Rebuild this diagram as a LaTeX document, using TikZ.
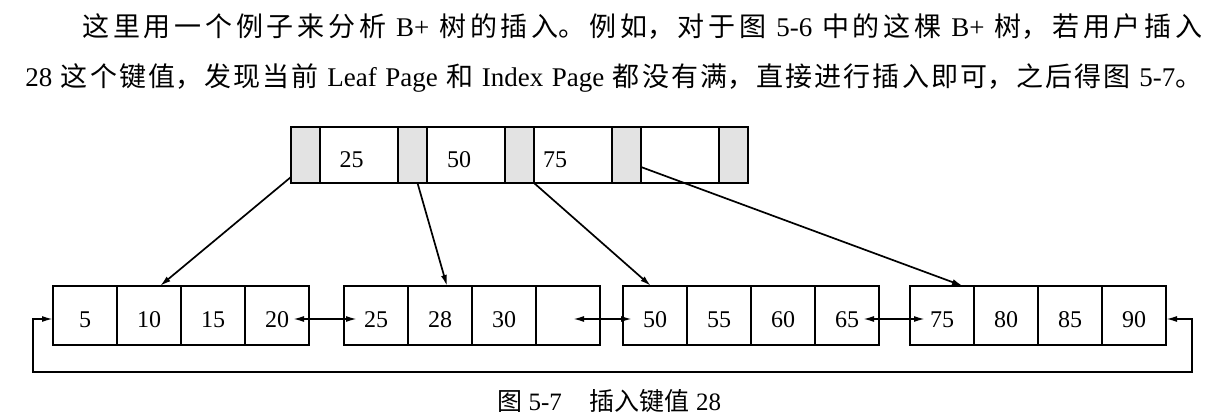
\documentclass[tikz,border=0pt]{standalone}
\usepackage{fontspec}
\setmainfont{Liberation Serif}
\newfontfamily\cjk{Noto Sans CJK SC}
\usetikzlibrary{positioning, arrows.meta}
\XeTeXlinebreaklocale "zh"
\XeTeXlinebreakskip=0pt plus 2pt minus 0.2pt
\tikzset{
  gcell/.style={draw, line width=0.9pt, fill=gray!22, minimum width=14.5pt, minimum height=28pt, inner sep=0pt, outer sep=0pt},
  kcell/.style={draw, line width=0.9pt, fill=white, minimum width=39pt, minimum height=28pt, inner sep=0pt, outer sep=0pt},
  leafcell/.style={draw, line width=0.9pt, minimum width=32pt, minimum height=29.5pt, inner sep=0pt, outer sep=0pt, text height=12.5pt, text depth=0pt, font=\fontsize{12}{14}\selectfont},
  val/.style={inner sep=0pt, font=\fontsize{12}{14}\selectfont},
  para/.style={inner sep=0pt, align=justify, font=\fontsize{13.5}{20}\selectfont},
  ptr/.style={line width=0.85pt, -{Latex[length=5.5pt,width=3pt]}},
  dptr/.style={line width=0.85pt, {Latex[length=5.5pt,width=3pt]}-{Latex[length=5.5pt,width=3pt]}}
}
\begin{document}
\begin{tikzpicture}[x=0.5pt, y=-0.5pt]
\useasboundingbox (0,0) rectangle (1223,417);
\node [para, text width=560pt, anchor=base west] (line1) at (82,37) {\parfillskip=0pt {\cjk 这里用一个例子来分析} B+ {\cjk 树的插入。例如，对于图} 5-6 {\cjk 中的这棵} B+ {\cjk 树，若用户插入}\par};
\node [para, text width=588.5pt, anchor=base west] (line2) at (25,87) {\parfillskip=0pt 28 {\cjk 这个键值，发现当前} Leaf Page {\cjk 和} Index Page {\cjk 都没有满，直接进行插入即可，之后得图} 5-7{\cjk 。}\par};
\node [gcell, anchor=west] (g1) at (291,155) {};
\node [kcell, right=0pt of g1] (k1) {};
\node [gcell, right=0pt of k1] (g2) {};
\node [kcell, right=0pt of g2] (k2) {};
\node [gcell, right=0pt of k2] (g3) {};
\node [kcell, right=0pt of g3] (k3) {};
\node [gcell, right=0pt of k3] (g4) {};
\node [kcell, right=0pt of g4] (k4) {};
\node [gcell, right=0pt of k4] (g5) {};
\node [val, anchor=base] (v25) at (351.5,168) {25};
\node [val, anchor=base] (v50) at (459,168) {50};
\node [val, anchor=base] (v75) at (555,168) {75};
\foreach \vals/\x [count=\l] in {{5,10,15,20}/53, {25,28,30,{}}/344, {50,55,60,65}/623, {75,80,85,90}/910}
  \foreach \v [count=\c] in \vals
    \node [leafcell] (l\l-\c) at (\x+\c*64-32, 315.5) {\v};
\draw [ptr] ([yshift=3pt]g1.south west) -- ([xshift=5.5pt]l1-2.north);
\draw [ptr] ([xshift=2.5pt]g2.south) -- ([xshift=3.5pt]l2-2.north);
\draw [ptr] (g3.south east) -- ([xshift=-2pt]l3-1.north);
\draw [ptr] ([yshift=-6pt]g4.east) -- ([xshift=10.5pt]l4-1.north);
\draw [dptr] ([xshift=8pt,yshift=-1.75pt]l1-4.center) -- ([xshift=-9.5pt,yshift=-1.75pt]l2-1.center);
\draw [dptr] ([xshift=2.5pt,yshift=-1.75pt]l2-4.center) -- ([xshift=-11.5pt,yshift=-1.75pt]l3-1.center);
\draw [dptr] ([xshift=8pt,yshift=-1.75pt]l3-4.center) -- ([xshift=-8.5pt,yshift=-1.75pt]l4-1.center);
\coordinate (loopR) at (1192,372);
\coordinate (loopL) at (33,372);
\draw [dptr] ([yshift=-1.75pt]l4-4.east) -| (loopR) -- (loopL) |- ([yshift=-1.75pt]l1-1.west);
\node [anchor=base west, inner sep=0pt, font=\fontsize{12.5}{14}\selectfont] (caption) at (497,410) {{\cjk 图} 5-7\hspace{14pt}{\cjk 插入键值} 28};
\end{tikzpicture}
\end{document}
